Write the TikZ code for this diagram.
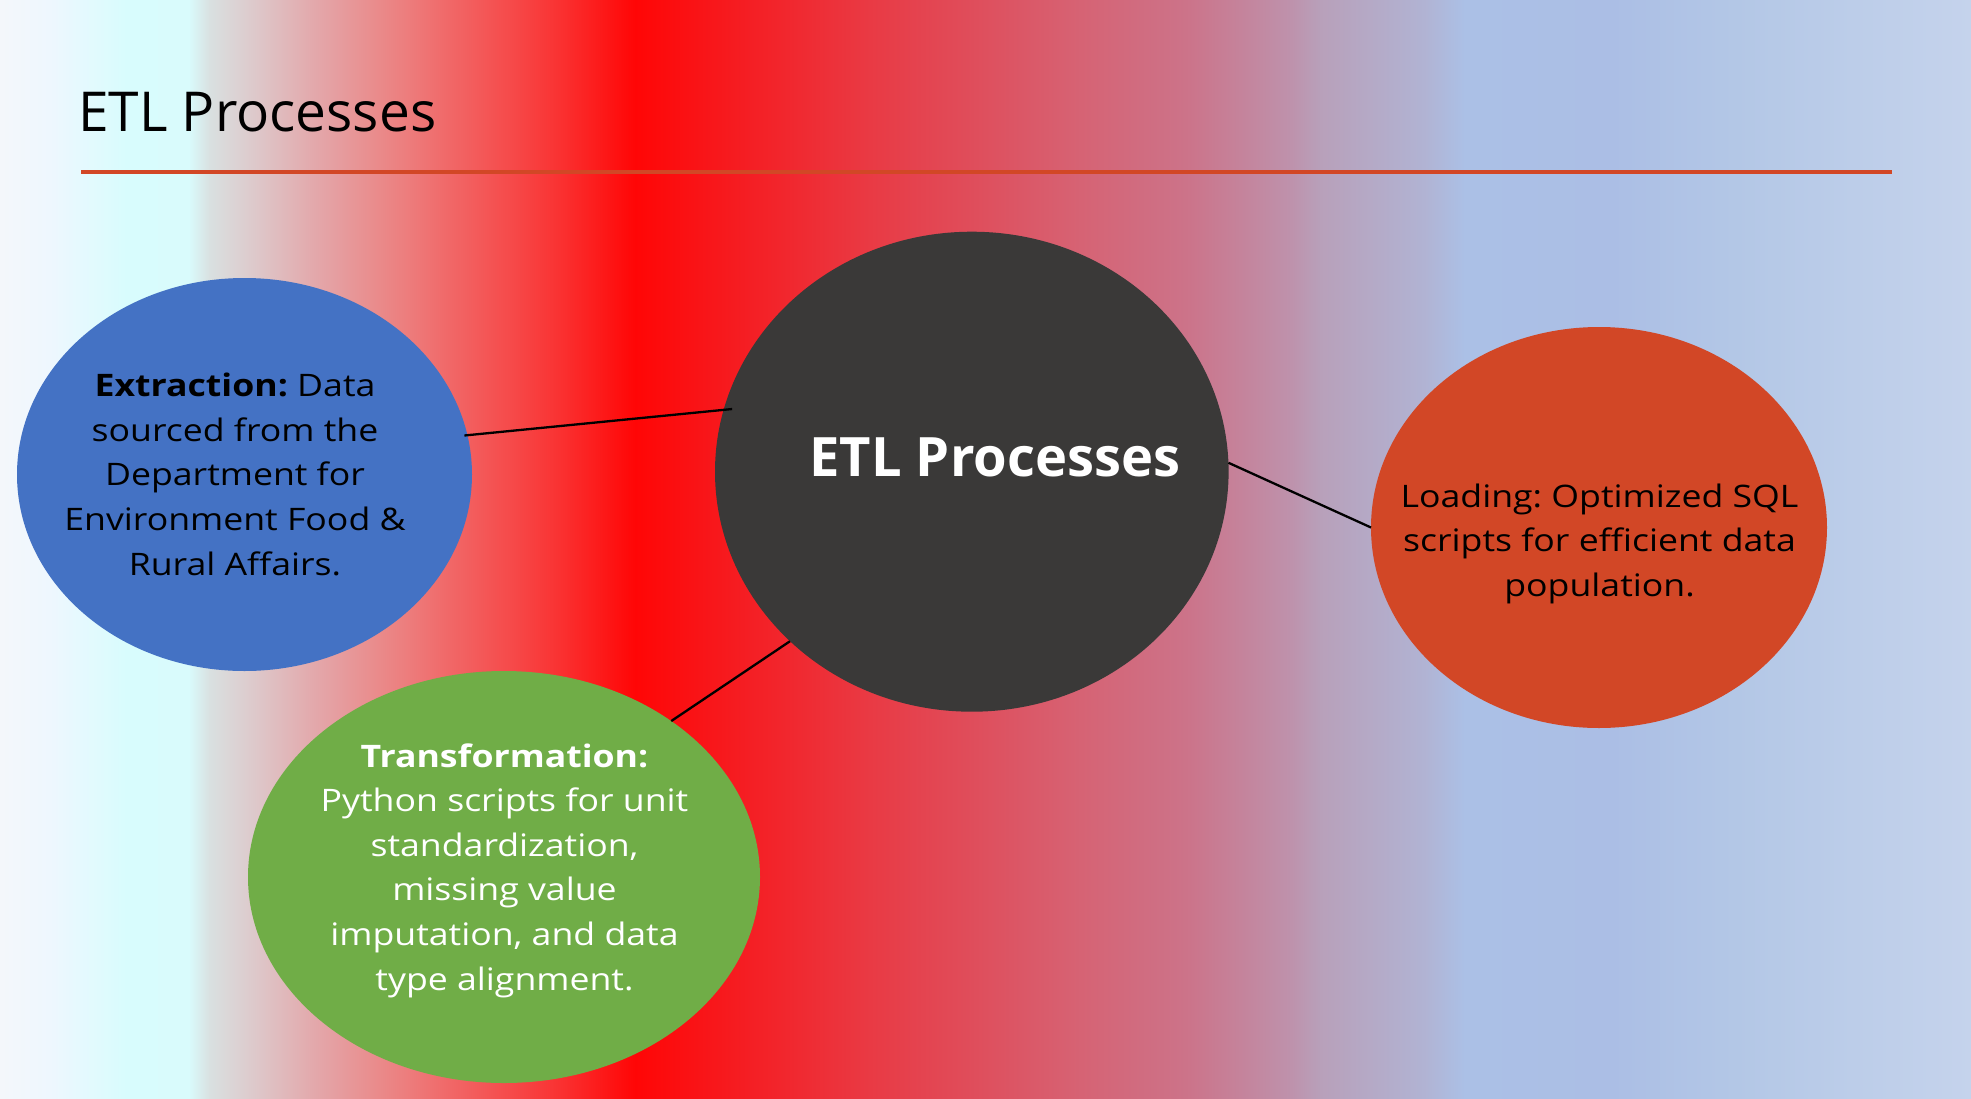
\documentclass[tikz,border=0pt]{standalone}
\usepackage{fontspec}
\setmainfont{Open Sans}
\newfontfamily\bodyfont[FakeStretch=1.15]{Open Sans}
\usetikzlibrary{shapes.geometric}

\definecolor{g00}{HTML}{F4F7FB}
\definecolor{g01}{HTML}{EEF7FE}
\definecolor{g02}{HTML}{D8FCFD}
\definecolor{g03}{HTML}{D9FBFC}
\definecolor{g04}{HTML}{D9E0E0}
\definecolor{g05}{HTML}{DDCBCD}
\definecolor{g06}{HTML}{E3A8AB}
\definecolor{g07}{HTML}{EB8585}
\definecolor{g08}{HTML}{F26060}
\definecolor{g09}{HTML}{F93535}
\definecolor{g10}{HTML}{FF0606}
\definecolor{g11}{HTML}{F32228}
\definecolor{g12}{HTML}{E93A44}
\definecolor{g13}{HTML}{DF4E5C}
\definecolor{g14}{HTML}{D66374}
\definecolor{g15}{HTML}{CC7389}
\definecolor{g16}{HTML}{BE92AC}
\definecolor{g17}{HTML}{B8A0BA}
\definecolor{g18}{HTML}{B1B3D3}
\definecolor{g19}{HTML}{ABC0E6}
\definecolor{g20}{HTML}{ABBEE5}
\definecolor{g21}{HTML}{B3C7E6}
\definecolor{g22}{HTML}{C5D3EC}

\pgfdeclarehorizontalshading{bgshade}{100bp}{%
color(0bp)=(g00); color(25bp)=(g00); color(26.27bp)=(g01); color(28.20bp)=(g02);
color(29.79bp)=(g03); color(30.33bp)=(g04); color(31.34bp)=(g05); color(32.97bp)=(g06);
color(34.89bp)=(g07); color(36.80bp)=(g08); color(39.03bp)=(g09); color(41.11bp)=(g10);
color(44.41bp)=(g11); color(47.07bp)=(g12); color(49.76bp)=(g13); color(52.42bp)=(g14);
color(55.09bp)=(g15); color(57.75bp)=(g16); color(58.49bp)=(g17); color(61.12bp)=(g18);
color(62.16bp)=(g19); color(65.87bp)=(g20); color(69.01bp)=(g21); color(75bp)=(g22);
color(100bp)=(g22)}

\definecolor{extblue}{HTML}{4472C4}
\definecolor{trngreen}{HTML}{70AD47}
\definecolor{etldark}{HTML}{3A3938}
\definecolor{loadorange}{HTML}{D24726}

\tikzset{
  blob/.style={ellipse, draw=none, inner sep=0pt, outer sep=0pt},
  conn/.style={draw=black, line width=2.3pt},
  bodytxt/.style={align=center, inner sep=0pt, font=\bodyfont\fontsize{31}{44.6}\selectfont\frenchspacing},
  centertxt/.style={inner sep=0pt, text=white, font=\fontsize{54.3}{66}\selectfont\bfseries},
  titletxt/.style={inner sep=0pt, text=black, font=\fontsize{55}{66}\selectfont},
}

\begin{document}
\begin{tikzpicture}[x=1pt, y=-1pt]
\useasboundingbox (0,0) rectangle (1971,1098);
\shade[shading=bgshade] (0,0) rectangle (1971,1098);

% title and rule
\node[titletxt, anchor=base west] (title) at (78,131.7) {ETL Processes};
\coordinate (ruleL) at (81,172);
\coordinate (ruleR) at (1892,172);
\draw[loadorange, line width=3.7pt] (ruleL) -- (ruleR);

% ellipses
\node[blob, fill=extblue, minimum width=455pt, minimum height=393pt] (ext) at (244.5,474.5) {};
\node[blob, fill=trngreen, minimum width=512pt, minimum height=412pt] (trn) at (504,877) {};
\node[blob, fill=etldark, minimum width=513.6pt, minimum height=480pt] (etl) at (971.8,471.7) {};
\node[blob, fill=loadorange, minimum width=456pt, minimum height=401pt] (load) at (1599,527.5) {};

% connectors
\draw[conn, shorten <=-3pt, shorten >=-8.5pt] (ext.10.7) -- (etl.166);
\draw[conn] (etl.2) -- (load.180);
\draw[conn] (etl.223.4) -- (trn.43.7);

% texts
\node[bodytxt, text=black] (exttxt) at (235,474.3)
  {\textbf{Extraction:} Data\\sourced from the\\Department for\\Environment Food \&\\Rural Affairs.};
\node[bodytxt, text=white] (trntxt) at (504.5,870.5)
  {\textbf{Transformation:}\\Python scripts for unit\\standardization,\\missing value\\imputation, and data\\type alignment.};
\node[bodytxt, text=black] (loadtxt) at (1599.5,543.8)
  {Loading: Optimized SQL\\scripts for efficient data\\population.};
\node[centertxt, anchor=base] (etltxt) at (994.8,476.7) {ETL Processes};
\end{tikzpicture}
\end{document}
